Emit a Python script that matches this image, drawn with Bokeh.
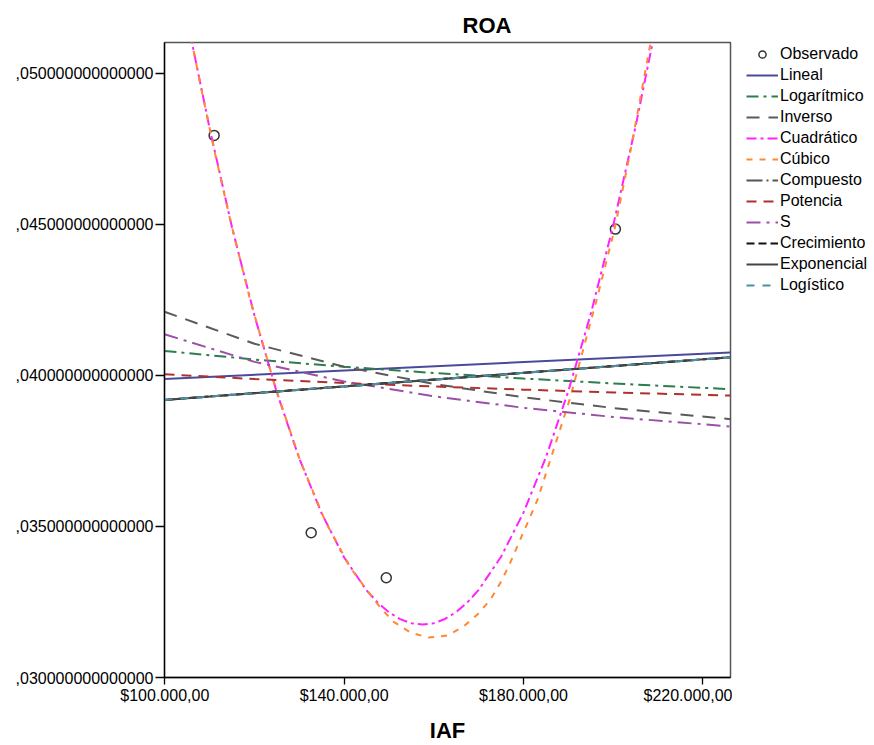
from bokeh.plotting import figure
from bokeh.layouts import row
from bokeh.models import FixedTicker, Range1d, Legend, LegendItem
from bokeh.embed import file_html
from bokeh.resources import INLINE

# ---------------- data ----------------
iaf_obs = [111000, 132650, 149400, 200500]
roa_obs = [0.04794, 0.03479, 0.03330, 0.04484]

x_lin = [99930, 226180]
y_lin = [0.039881, 0.040757]

x_log = [99930, 120000, 140000, 160000, 180000, 200000, 226180]
y_log = [0.040806, 0.040522, 0.040284, 0.040079, 0.039894, 0.039732, 0.039541]

x_inv = [99930, 120000, 140000, 160000, 180000, 200000, 226180]
y_inv = [0.042105, 0.041044, 0.040284, 0.039716, 0.039273, 0.038919, 0.038549]

x_quad = [103000, 106000, 110000, 115000, 120000, 125000, 130000, 135000, 140000,
          145000, 147500, 150000, 152500, 155000, 157500, 160000, 162500, 165000,
          167500, 170000, 175000, 180000, 185000, 190000, 195000, 200000, 205000,
          210000, 213000]
y_quad = [0.053369, 0.051052, 0.048168, 0.044891, 0.041978, 0.039430, 0.037246,
          0.035427, 0.033972, 0.032882, 0.032473, 0.032156, 0.031930, 0.031795,
          0.031751, 0.031798, 0.031937, 0.032166, 0.032487, 0.032898, 0.033995,
          0.035456, 0.037282, 0.039473, 0.042027, 0.044947, 0.048230, 0.051879,
          0.054243]

x_cub = [104756, 105649, 107882, 111232, 114581, 119047, 124630, 130212, 135795,
         141377, 145843, 148076, 150979, 154775, 158795, 163038, 166610, 169737,
         172639, 174872, 176659, 183136, 190280, 196309, 200329, 203902, 208367,
         209261]
y_cub = [0.052009, 0.051315, 0.049663, 0.047317, 0.045152, 0.042492, 0.039617,
         0.037171, 0.035172, 0.033635, 0.032743, 0.032313, 0.031851, 0.031487,
         0.031322, 0.031388, 0.031685, 0.032082, 0.032578, 0.033139, 0.033668,
         0.035882, 0.039187, 0.042492, 0.044838, 0.047449, 0.051018, 0.051745]

x_comp = [99930, 226180]
y_comp = [0.039187, 0.040598]

x_pot = [99930, 120000, 140000, 160000, 180000, 200000, 226180]
y_pot = [0.040036, 0.039878, 0.039746, 0.039630, 0.039527, 0.039435, 0.039329]

x_s = [99930, 120000, 140000, 160000, 180000, 200000, 226180]
y_s = [0.041358, 0.040446, 0.039795, 0.039306, 0.038926, 0.038622, 0.038305]

x_crec = [99930, 226180]
y_crec = [0.039187, 0.040598]

x_exp = [99930, 226180]
y_exp = [0.039187, 0.040598]

x_logis = [99930, 226180]
y_logis = [0.039187, 0.040598]

x_ticks = [100000, 140000, 180000, 220000]
x_tick_labels = ["$100.000,00", "$140.000,00", "$180.000,00", "$220.000,00"]
y_ticks = [0.030, 0.035, 0.040, 0.045, 0.050]
y_tick_labels = [",030000000000000", ",035000000000000", ",040000000000000",
                 ",045000000000000", ",050000000000000"]

FONT = "Liberation Sans"
LW = 2

# (label, colour, dash, kind)
styles = [
    ("Observado", "#333333", None, "marker"),
    ("Lineal", "#4a4a9c", "solid", "line"),
    ("Logarítmico", "#2d7d4d", "12 5 3 5", "line"),
    ("Inverso", "#5a5a5a", "13 9", "line"),
    ("Cuadrático", "#ff22ff", "10 4 3 4", "line"),
    ("Cúbico", "#ff8833", "6 7", "line"),
    ("Compuesto", "#555555", "16 4 2 4", "line"),
    ("Potencia", "#b03030", "10 7", "line"),
    ("S", "#9b4fa8", "14 6 3 6", "line"),
    ("Crecimiento", "#111111", "8 4", "line"),
    ("Exponencial", "#444444", "solid", "line"),
    ("Logístico", "#4d8fa0", "8 8", "line"),
]
series = [(iaf_obs, roa_obs), (x_lin, y_lin), (x_log, y_log), (x_inv, y_inv),
          (x_quad, y_quad), (x_cub, y_cub), (x_comp, y_comp), (x_pot, y_pot),
          (x_s, y_s), (x_crec, y_crec), (x_exp, y_exp), (x_logis, y_logis)]

p = figure(width=732, height=745, output_backend="svg", toolbar_location=None,
           x_range=Range1d(99930, 226180), y_range=Range1d(0.030, 0.051015),
           min_border_left=164, min_border_right=2, min_border_top=42,
           min_border_bottom=67, background_fill_color="white",
           border_fill_color="white")

p.title.text = "ROA"
p.title.align = "left"
p.title.offset = 298
p.title.text_font = FONT
p.title.text_font_size = "22px"
p.title.text_font_style = "bold"
p.title.text_color = "#000000"

p.xgrid.visible = False
p.ygrid.visible = False
p.outline_line_color = "#555555"
p.outline_line_width = 1.5

for ax in (p.xaxis[0], p.yaxis[0]):
    ax.axis_line_color = "#000000"
    ax.axis_line_width = 1.3
    ax.major_tick_line_color = "#000000"
    ax.major_tick_line_width = 1.3
    ax.major_tick_in = 0
    ax.minor_tick_line_color = None
    ax.major_label_text_font = FONT
    ax.major_label_text_font_size = "16px"
    ax.major_label_text_color = "#000000"

p.xaxis.ticker = FixedTicker(ticks=x_ticks)
p.xaxis.major_label_overrides = dict(zip(x_ticks, x_tick_labels))
p.xaxis.major_tick_out = 7
p.xaxis.major_label_standoff = 2
p.xaxis.axis_label = "IAF"
p.xaxis.axis_label_text_font = FONT
p.xaxis.axis_label_text_font_size = "22px"
p.xaxis.axis_label_text_font_style = "bold"
p.xaxis.axis_label_text_color = "#000000"
p.xaxis.axis_label_standoff = 11

p.yaxis.ticker = FixedTicker(ticks=y_ticks)
p.yaxis.major_label_overrides = dict(zip(y_ticks, y_tick_labels))
p.yaxis.major_tick_out = 9
p.yaxis.major_label_standoff = 2

# legend panel (separate figure on the right); same top/bottom borders as the
# chart so the row keeps the chart frame in place; data lie outside its ranges
q = figure(width=142, height=745, output_backend="svg", toolbar_location=None,
           x_range=Range1d(0, 1), y_range=Range1d(0, 1),
           x_axis_type=None, y_axis_type=None,
           min_border_left=11, min_border_top=42, min_border_right=0,
           min_border_bottom=67,
           outline_line_color=None, background_fill_color="white",
           border_fill_color="white")
q.xgrid.visible = False
q.ygrid.visible = False

items = []
for (label, color, dash, kind), (xs, ys) in zip(styles, series):
    if kind == "marker":
        p.scatter(xs, ys, size=10, marker="circle", fill_color="white",
                  line_color=color, line_width=1.5)
        rq = q.scatter(xs, ys, size=10, marker="circle", fill_color="white",
                       line_color=color, line_width=1.5)
    else:
        p.line(xs, ys, line_color=color, line_width=LW, line_dash=dash)
        rq = q.line(xs, ys, line_color=color, line_width=LW, line_dash=dash)
    items.append(LegendItem(label=label, renderers=[rq]))

legend = Legend(items=items, location="top_left")
legend.border_line_color = None
legend.background_fill_alpha = 0
legend.label_text_font = FONT
legend.label_text_font_size = "16px"
legend.label_text_color = "#000000"
legend.glyph_width = 32
legend.glyph_height = 18
legend.label_height = 18
legend.spacing = 3
legend.padding = 0
legend.margin = 3
legend.label_standoff = 2
q.add_layout(legend)

layout = row(p, q, spacing=0)
open("out.html", "w").write(file_html(layout, INLINE))
